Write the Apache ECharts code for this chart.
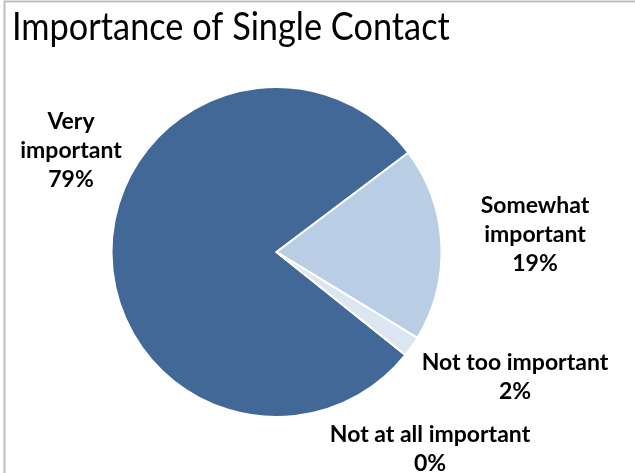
<!DOCTYPE html>
<html>
<head>
<meta charset="utf-8">
<script src="https://cdn.jsdelivr.net/npm/echarts@6/dist/echarts.min.js"></script>
<style>
  html, body { margin: 0; padding: 0; background: #ffffff; }
  #chart { width: 635px; height: 473px; }
</style>
</head>
<body>
<div id="chart"></div>
<script>
// Survey responses: how important is having a single contact
const categories = ['Very\nimportant', 'Somewhat\nimportant', 'Not too important', 'Not at all important'];
const shares = [79, 19, 2, 0];
const sliceColors = ['#416897', '#B9CDE4', '#DCE6F2', '#EEF3F9'];
const chartTitle = 'Importance of Single Contact';

// Label anchor points (px), one per category
const labelSpots = [[71, 151], [535, 235], [515, 377], [430, 449]];

const chart = echarts.init(document.getElementById('chart'), null, { renderer: 'canvas' });

chart.setOption({
  animation: false,
  graphic: [{
    type: 'rect',
    shape: { x: 4.5, y: 1.5, width: 700, height: 600 },
    style: { fill: 'none', stroke: '#C0C0C0', lineWidth: 2 },
    silent: true
  }, {
    // condensed title text
    type: 'text',
    x: 12,
    y: 8,
    scaleX: 0.88,
    style: {
      text: chartTitle,
      font: 'normal 39px Lato',
      fill: '#000000',
      verticalAlign: 'top'
    },
    silent: true
  }],
  series: [{
    type: 'pie',
    center: [276.5, 252],
    radius: [0, 165],
    startAngle: 321.4,
    clockwise: true,
    minAngle: 0,
    avoidLabelOverlap: false,
    data: categories.map((name, i) => ({
      name: name,
      value: shares[i],
      itemStyle: { color: sliceColors[i] }
    })),
    itemStyle: { borderColor: '#ffffff', borderWidth: 2 },
    label: {
      show: true,
      formatter: p => p.name + '\n' + p.value + '%',
      fontFamily: 'Lato',
      fontWeight: 'bold',
      fontSize: 23,
      lineHeight: 29,
      color: '#000000',
      align: 'center'
    },
    labelLine: { show: false },
    labelLayout: params => ({
      x: labelSpots[params.dataIndex][0],
      y: labelSpots[params.dataIndex][1],
      align: 'center',
      verticalAlign: 'middle'
    }),
    emphasis: { disabled: true }
  }]
});
</script>
</body>
</html>
